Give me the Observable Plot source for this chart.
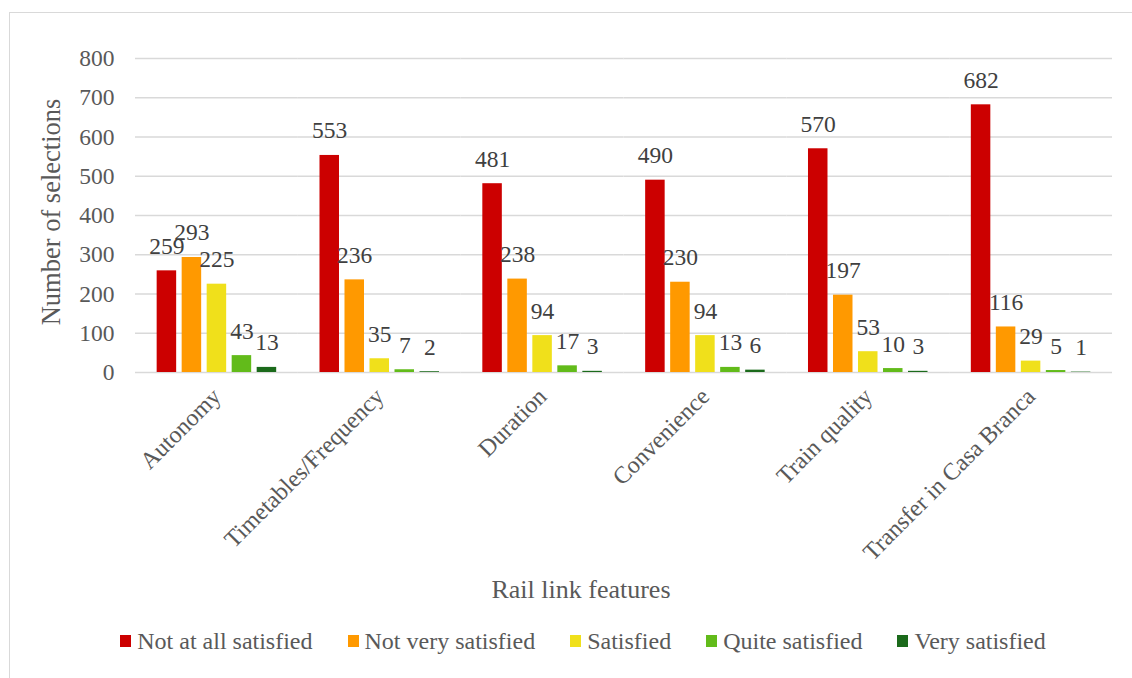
<!DOCTYPE html>
<html>
<head>
<meta charset="utf-8">
<script src="https://cdn.jsdelivr.net/npm/d3@7"></script>
<script src="https://cdn.jsdelivr.net/npm/@observablehq/plot@0.6"></script>
<style>
  html, body { margin: 0; padding: 0; background: #fff; }
  #wrap { position: relative; width: 1132px; height: 678px; overflow: hidden; font-family: "Liberation Serif", "Times New Roman", serif; color: #595959; }
  #frame { position: absolute; left: 9px; top: 12px; width: 1200px; height: 700px; border-left: 1.5px solid #d9d9d9; border-top: 1.5px solid #d9d9d9; }
  #chart { position: absolute; left: 0; top: 0; }
  #xtitle { position: absolute; left: 381px; width: 400px; top: 577px; line-height: 26px; font-size: 26px; text-align: center; }
  #ytitle { position: absolute; left: 51px; top: 212px; transform: translate(-50%, -50%) rotate(-90deg); white-space: nowrap; font-size: 26.5px; line-height: 26px; }
  #legend { position: absolute; left: 0; width: 1166px; top: 629px; display: flex; justify-content: center; gap: 35px; font-size: 24px; line-height: 24px; }
  #legend .item { display: flex; align-items: center; }
  #legend .sw { width: 11px; height: 12px; margin-right: 6px; }
</style>
</head>
<body>
<div id="wrap">
  <div id="frame"></div>
  <div id="chart"></div>
  <div id="ytitle">Number of selections</div>
  <div id="xtitle">Rail link features</div>
  <div id="legend"></div>
</div>
<script>
const categories = ["Autonomy", "Timetables/Frequency", "Duration", "Convenience", "Train quality", "Transfer in Casa Branca"];
const levels = ["Not at all satisfied", "Not very satisfied", "Satisfied", "Quite satisfied", "Very satisfied"];
const colors = ["#cc0000", "#ff9900", "#f0e01b", "#62bb1a", "#1b6a1b"];
const notAtAll = [259, 553, 481, 490, 570, 682];
const notVery = [293, 236, 238, 230, 197, 116];
const satisfied = [225, 35, 94, 94, 53, 29];
const quite = [43, 7, 17, 13, 10, 5];
const very = [13, 2, 3, 6, 3, 1];
const yTicks = [0, 100, 200, 300, 400, 500, 600, 700, 800];

const series = [notAtAll, notVery, satisfied, quite, very];
const data = [];
categories.forEach((c, i) => {
  levels.forEach((l, j) => data.push({cat: c, level: l, value: series[j][i]}));
});

const serif = "'Liberation Serif', 'Times New Roman', serif";
const chart = Plot.plot({
  width: 1132,
  height: 575,
  marginTop: 58,
  marginBottom: 203,
  marginLeft: 135,
  marginRight: 20,
  style: {fontFamily: serif, fontSize: "23px", color: "#595959", background: "transparent"},
  fx: {domain: categories, padding: 0, round: false, label: null},
  x: {domain: levels, paddingInner: 0.22, paddingOuter: 0.866, round: false, axis: null},
  y: {domain: [0, 800], ticks: yTicks},
  color: {domain: levels, range: colors},
  marks: [
    Plot.gridY(yTicks, {stroke: "#d9d9d9", strokeOpacity: 1, strokeWidth: 1.5}),
    Plot.axisY(yTicks, {tickSize: 0, tickPadding: 21, label: null, fontSize: 23.5, fontFamily: serif, fill: "#595959"}),
    Plot.axisFx({anchor: "bottom", tickRotate: -45, tickSize: 0, tickPadding: 20, label: null, fontSize: 24, fontFamily: serif, fill: "#595959"}),
    Plot.barY(data, {fx: "cat", x: "level", y: "value", fill: "level"}),
    Plot.text(data, {fx: "cat", x: "level", y: "value", text: d => String(d.value), dy: -17, lineAnchor: "bottom", fontSize: 23.5, fontFamily: serif, fill: "#404040"})
  ]
});
document.getElementById("chart").appendChild(chart);

const legend = document.getElementById("legend");
levels.forEach((l, i) => {
  const it = document.createElement("div");
  it.className = "item";
  const sw = document.createElement("span");
  sw.className = "sw";
  sw.style.background = colors[i];
  const tx = document.createElement("span");
  tx.textContent = l;
  it.appendChild(sw);
  it.appendChild(tx);
  legend.appendChild(it);
});
</script>
</body>
</html>
